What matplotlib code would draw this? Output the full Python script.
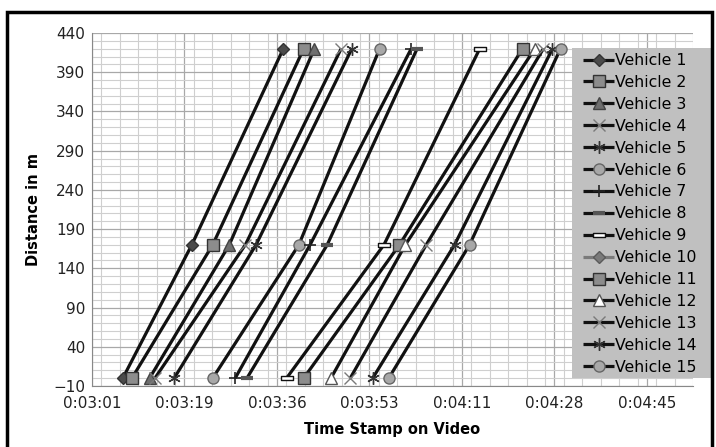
import numpy as np
import matplotlib
matplotlib.use("Agg")
import matplotlib.pyplot as plt
from matplotlib.ticker import FixedLocator, FuncFormatter, MultipleLocator
from matplotlib.path import Path
from matplotlib.patches import Rectangle

# ---- data (time in seconds on the video, distance in m) ----
distance = [0, 170, 420]
labels = [f"Vehicle {i}" for i in range(1, 16)]
v1 = [187.2, 200.1, 217.2]
v2 = [188.9, 204.0, 221.0]
v3 = [192.2, 207.1, 223.0]
v4 = [193.2, 210.1, 228.0]
v5 = [196.8, 212.1, 230.0]
v6 = [204.0, 220.1, 235.2]
v7 = [208.2, 222.2, 241.1]
v8 = [210.4, 225.4, 242.2]
v9 = [217.8, 236.0, 253.9]
v10 = [np.nan, np.nan, np.nan]
v11 = [221.0, 238.9, 261.9]
v12 = [226.1, 240.0, 264.2]
v13 = [229.7, 243.9, 265.8]
v14 = [233.9, 249.2, 267.5]
v15 = [236.9, 252.0, 269.0]
series = [v1, v2, v3, v4, v5, v6, v7, v8, v9, v10, v11, v12, v13, v14, v15]

x_ticks_sec = [181.44 + 17.28 * k for k in range(7)]

# ---- styles ----
dash_long = Path([(-1, -0.28), (1, -0.28), (1, 0.28), (-1, 0.28), (-1, -0.28)],
                 [Path.MOVETO, Path.LINETO, Path.LINETO, Path.LINETO, Path.CLOSEPOLY])
styles = [
    dict(marker="D", ms=6.5, mfc="#4a4a4a", mec="#333333", color="#111111"),
    dict(marker="s", ms=8, mfc="#8c8c8c", mec="#333333", color="#111111"),
    dict(marker="^", ms=8, mfc="#6e6e6e", mec="#444444", color="#111111"),
    dict(marker="x", ms=8, mfc="none", mec="#7a7a7a", mew=1.0, color="#111111"),
    dict(marker=(6, 2, 0), ms=9, mfc="none", mec="#333333", mew=1.0, color="#111111"),
    dict(marker="o", ms=8, mfc="#a8a8a8", mec="#666666", color="#111111"),
    dict(marker="+", ms=9, mfc="none", mec="#222222", mew=1.2, color="#111111"),
    dict(marker="_", ms=8, mfc="none", mec="#555555", mew=3, color="#111111"),
    dict(marker=dash_long, ms=9, mfc="white", mec="#111111", mew=1.0, color="#111111"),
    dict(marker="D", ms=6.5, mfc="#7a7a7a", mec="#5a5a5a", color="#7a7a7a"),
    dict(marker="s", ms=8, mfc="#8c8c8c", mec="#333333", color="#111111"),
    dict(marker="^", ms=8, mfc="white", mec="#555555", color="#111111"),
    dict(marker="x", ms=8, mfc="none", mec="#7a7a7a", mew=1.0, color="#111111"),
    dict(marker=(6, 2, 0), ms=9, mfc="none", mec="#333333", mew=1.0, color="#111111"),
    dict(marker="o", ms=8, mfc="#a8a8a8", mec="#666666", color="#111111"),
]

def fmt_time(s, pos=None):
    s = int(round(s))
    h, rem = divmod(s, 3600)
    m, sec = divmod(rem, 60)
    return f"{h}:{m:02d}:{sec:02d}"

W, H = 716, 447
fig = plt.figure(figsize=(7.16, 4.47), dpi=100)
ax = fig.add_axes([92 / W, 1 - 386 / H, (693 - 92) / W, (386 - 33) / H])

for vals, lab, st in zip(series, labels, styles):
    ax.plot(vals, distance, lw=2.3, label=lab, solid_capstyle="butt", **st)

ax.set_xlim(181.44, 181.44 + 17.28 * 6.5)
ax.set_ylim(-10, 440)
ax.xaxis.set_major_locator(FixedLocator(x_ticks_sec))
ax.xaxis.set_major_formatter(FuncFormatter(fmt_time))
ax.xaxis.set_minor_locator(MultipleLocator(3.456))
ax.yaxis.set_major_locator(FixedLocator(np.arange(-10, 441, 50)))
ax.yaxis.set_minor_locator(MultipleLocator(10))

ax.grid(which="major", color="#a8a8a8", lw=0.9)
ax.grid(which="minor", color="#cfcfcf", lw=0.8)
ax.set_axisbelow(True)
for sp in ["top", "right"]:
    ax.spines[sp].set_visible(False)
for sp in ["left", "bottom"]:
    ax.spines[sp].set_color("#888888")
ax.tick_params(which="both", length=0, labelsize=11, colors="#222222")
ax.tick_params(axis="x", pad=7)
ax.tick_params(axis="y", pad=5)

ax.set_xlabel("Time Stamp on Video", fontsize=10.5, fontweight="bold", labelpad=8)
ax.set_ylabel("Distance in m", fontsize=10.5, fontweight="bold", labelpad=9)

# legend background box
fig.patches.append(Rectangle((572 / W, 1 - 378 / H), (711 - 572) / W, (378 - 48) / H,
                             transform=fig.transFigure, facecolor="#c0c0c0",
                             edgecolor="none", zorder=3))
leg = fig.legend(loc="upper left", bbox_to_anchor=(583 / W, 1 - 53 / H),
                 frameon=False, fontsize=11.3, handlelength=2.0, handletextpad=0.05,
                 labelspacing=0.44, borderpad=0.0, borderaxespad=0)
leg.set_zorder(5)

# outer chart border
fig.patches.append(Rectangle((7 / W, -0.05), (712 - 7) / W, 1.05 - 12 / H,
                             transform=fig.transFigure, fill=False,
                             edgecolor="black", lw=2.5, zorder=10))

fig.savefig("out.png", dpi=100)
